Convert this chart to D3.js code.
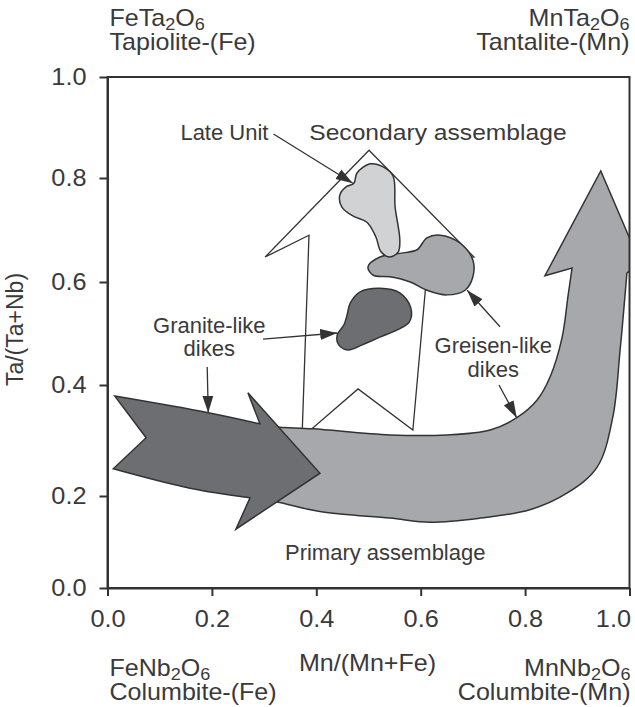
<!DOCTYPE html>
<html><head><meta charset="utf-8">
<script src="https://cdn.jsdelivr.net/npm/d3@7/dist/d3.min.js"></script>
<style>
body{margin:0;background:#fff;}
text{font-family:"Liberation Sans",Arial,Helvetica,sans-serif;fill:#3a3a3a;}
</style></head><body>
<svg id="chart" width="635" height="707"></svg>
<script>
// ---------- data ----------
const xTicks=[0,0.2,0.4,0.6,0.8,1.0];
const yTicks=[0,0.2,0.4,0.6,0.8,1.0];
const xTitle="Mn/(Mn+Fe)";
const yTitle="Ta/(Ta+Nb)";
// end-member labels: formula parts [text, isSubscript], mineral name
const endTopLeft ={formula:[["FeTa",0],["2",1],["O",0],["6",1]], name:"Tapiolite-(Fe)"};
const endTopRight={formula:[["MnTa",0],["2",1],["O",0],["6",1]], name:"Tantalite-(Mn)"};
const endBotLeft ={formula:[["FeNb",0],["2",1],["O",0],["6",1]], name:"Columbite-(Fe)"};
const endBotRight={formula:[["MnNb",0],["2",1],["O",0],["6",1]], name:"Columbite-(Mn)"};

// Secondary assemblage arrow outline (x = Mn/(Mn+Fe), y = Ta/(Ta+Nb))
const secondaryArrow=[[0.501,0.855],[0.702,0.648],[0.614,0.642],[0.585,0.319],[0.480,0.393],
  [0.384,0.315],[0.373,0.315],[0.386,0.690],[0.302,0.648]];
// Late unit field
const lateUnit=[[0.478,0.810],[0.503,0.828],[0.528,0.822],[0.547,0.804],[0.551,0.744],[0.560,0.681],
  [0.557,0.658],[0.541,0.648],[0.524,0.658],[0.514,0.687],[0.497,0.715],[0.470,0.727],[0.449,0.744],
  [0.445,0.767],[0.457,0.783],[0.472,0.790]];
// Greisen-like dikes field
const greisen=[[0.499,0.629],[0.522,0.648],[0.566,0.656],[0.593,0.662],[0.612,0.685],[0.637,0.690],
  [0.675,0.675],[0.700,0.642],[0.700,0.610],[0.685,0.584],[0.650,0.575],[0.612,0.584],[0.580,0.600],
  [0.541,0.610],[0.509,0.613]];
// Granite-like dikes field
const granite=[[0.465,0.559],[0.484,0.581],[0.522,0.588],[0.560,0.579],[0.581,0.550],[0.578,0.522],
  [0.555,0.507],[0.522,0.493],[0.488,0.478],[0.461,0.468],[0.443,0.478],[0.440,0.497],[0.453,0.517],
  [0.459,0.536]];
// Primary assemblage trend (big U arrow)
const primaryInner=[[0.296,0.327],[0.330,0.324],[0.394,0.321],[0.541,0.310],[0.650,0.310],[0.733,0.319],
  [0.784,0.341],[0.823,0.373],[0.848,0.416],[0.871,0.493],[0.882,0.571],[0.890,0.627]];
const primaryHead=[[0.838,0.612],[0.945,0.814],[1.020,0.638]];
const primaryOuter=[[0.995,0.617],[0.982,0.468],[0.968,0.342],[0.938,0.252],[0.880,0.205],[0.809,0.170],
  [0.714,0.152],[0.618,0.143],[0.541,0.152],[0.413,0.165],[0.325,0.187],[0.296,0.192]];
// Granite-like trend (dark arrow)
const darkTop=[[0.014,0.380],[0.193,0.350],[0.292,0.330]];
const darkHead=[[0.269,0.386],[0.407,0.241],[0.246,0.128]];
const darkBottom=[[0.273,0.196],[0.158,0.214],[0.011,0.249]];
const darkNotch=[[0.074,0.305]];

// annotation texts and pointer arrows [from, to]
const labelTexts=["Late Unit","Secondary assemblage","Granite-like","dikes","Greisen-like","dikes","Primary assemblage"];
const pointers=[
  [[0.318,0.887],[0.470,0.790]],
  [[0.298,0.489],[0.440,0.501]],
  [[0.191,0.435],[0.193,0.350]],
  [[0.752,0.513],[0.689,0.584]],
  [[0.750,0.400],[0.784,0.341]]
];

// ---------- drawing ----------
const svg=d3.select("#chart");
const x=d3.scaleLinear().domain([0,1]).range([107.5,629.5]);
const y=d3.scaleLinear().domain(yTicks).range([588,496,385,282,178,77]);
const ink="#333333";

const straight=d3.line().x(d=>x(d[0])).y(d=>y(d[1]));
const smooth=d3.line().x(d=>x(d[0])).y(d=>y(d[1])).curve(d3.curveCatmullRom.alpha(0.5));
const blob=d3.line().x(d=>x(d[0])).y(d=>y(d[1])).curve(d3.curveCatmullRomClosed.alpha(0.5));
const cont=s=>s.replace(/^M/,"L");

// text helper with slight horizontal stretch
function stext(px,py,anchor,fs,k){
  const g=svg.append("g").attr("transform",`translate(${px},${py}) scale(${k},1)`);
  return g.append("text").attr("x",0).attr("y",0).attr("text-anchor",anchor).attr("font-size",fs);
}

const defs=svg.append("defs");
defs.append("clipPath").attr("id","plotclip").append("rect")
  .attr("x",x(0)).attr("y",y(1)).attr("width",x(1)-x(0)).attr("height",y(0)-y(1));
defs.append("marker").attr("id","ah").attr("markerUnits","userSpaceOnUse")
  .attr("markerWidth",18).attr("markerHeight",12).attr("refX",17).attr("refY",6)
  .attr("orient","auto")
  .append("path").attr("d","M0,0.5 L17,6 L0,11.5 Z").attr("fill",ink);

// secondary arrow outline
svg.append("path").attr("d",straight(secondaryArrow)+"Z")
  .attr("fill","#fff").attr("stroke",ink).attr("stroke-width",1.3).attr("stroke-linejoin","miter");

// fields
svg.append("path").attr("d",blob(greisen)).attr("fill","#a7a8ab").attr("stroke",ink).attr("stroke-width",1.5);
svg.append("path").attr("d",blob(lateUnit)).attr("fill","#d1d2d4").attr("stroke",ink).attr("stroke-width",1.5);
svg.append("path").attr("d",blob(granite)).attr("fill","#6d6e71").attr("stroke",ink).attr("stroke-width",1.5);

// primary arrow
const pPath=smooth(primaryInner)+cont(straight(primaryHead))+cont(smooth(primaryOuter))+"Z";
svg.append("path").attr("d",pPath).attr("clip-path","url(#plotclip)")
  .attr("fill","#a7a8ab").attr("stroke",ink).attr("stroke-width",1.5).attr("stroke-linejoin","miter");

// dark arrow
const dPath=smooth(darkTop)+cont(straight(darkHead))+cont(smooth(darkBottom))+cont(straight(darkNotch))+"Z";
svg.append("path").attr("d",dPath)
  .attr("fill","#6d6e71").attr("stroke",ink).attr("stroke-width",1.5).attr("stroke-linejoin","miter");

// pointer arrows
svg.selectAll(".ptr").data(pointers).enter().append("line").attr("class","ptr")
  .attr("x1",d=>x(d[0][0])).attr("y1",d=>y(d[0][1]))
  .attr("x2",d=>x(d[1][0])).attr("y2",d=>y(d[1][1]))
  .attr("stroke",ink).attr("stroke-width",1.3).attr("marker-end","url(#ah)");

// annotation labels (anchor positions in data units)
const labelPos=[[0.224,0.875],[0.633,0.875],[0.195,0.501],[0.195,0.456],[0.739,0.462],[0.739,0.416],[0.532,0.061]];
const labelStretch=[1,1.12,1,1,1,1,1];
labelTexts.forEach((t,i)=>{
  stext(x(labelPos[i][0]),y(labelPos[i][1]),"middle",22,labelStretch[i]).text(t);
});

// frame + axes
svg.append("rect").attr("x",x(0)).attr("y",y(1)).attr("width",x(1)-x(0)).attr("height",y(0)-y(1))
  .attr("fill","none").attr("stroke",ink).attr("stroke-width",2);
const fmt=d3.format(".1f");
const tk=1.1;
const gx=svg.append("g").attr("transform",`translate(0,${y(0)})`)
  .call(d3.axisBottom(x).tickValues(xTicks).tickFormat(fmt).tickSize(8).tickSizeOuter(0).tickPadding(15));
const gy=svg.append("g").attr("transform",`translate(${x(0)},0)`)
  .call(d3.axisLeft(y).tickValues(yTicks).tickFormat(fmt).tickSize(8).tickSizeOuter(0).tickPadding(13));
[gx,gy].forEach(g=>{
  g.select(".domain").attr("stroke",ink).attr("stroke-width",2);
  g.selectAll(".tick line").attr("stroke",ink).attr("stroke-width",2);
  g.selectAll(".tick text").attr("font-size",23).attr("font-family","Liberation Sans, Arial, sans-serif").attr("fill","#3a3a3a");
});
gx.selectAll(".tick text").attr("transform",`scale(${tk},1)`);
gx.selectAll(".tick").filter(d=>d===1).select("text").attr("text-anchor","end").attr("x",1/tk);
gy.selectAll(".tick text").attr("transform",`scale(${tk},1)`).attr("x",-21/tk);

// axis titles
stext((x(0)+x(1))/2-1,671,"middle",23,1.09).text(xTitle);
svg.append("text").attr("transform",`translate(23,${(y(0)+y(1))/2-3}) rotate(-90)`)
  .attr("text-anchor","middle").attr("font-size",23).text(yTitle);

// end-member labels
function endLabel(item,px,py,anchor){
  const fs=23, k=1.09, sd=4;
  const t=stext(px,py,anchor,fs,k);
  let sub=false;
  item.formula.forEach(p=>{
    const ts=t.append("tspan").text(p[0]);
    if(p[1]){ts.attr("font-size",fs*0.72).attr("dy",sub?0:sd);sub=true;}
    else{ if(sub) ts.attr("dy",-sd); sub=false;}
  });
  stext(px,py+24,anchor,fs,k).text(item.name);
}
endLabel(endTopLeft,x(0)+2,26,"start");
endLabel(endTopRight,x(1),26,"end");
endLabel(endBotLeft,x(0)+2,676,"start");
endLabel(endBotRight,x(1)+1,676,"end");
</script>
</body></html>
